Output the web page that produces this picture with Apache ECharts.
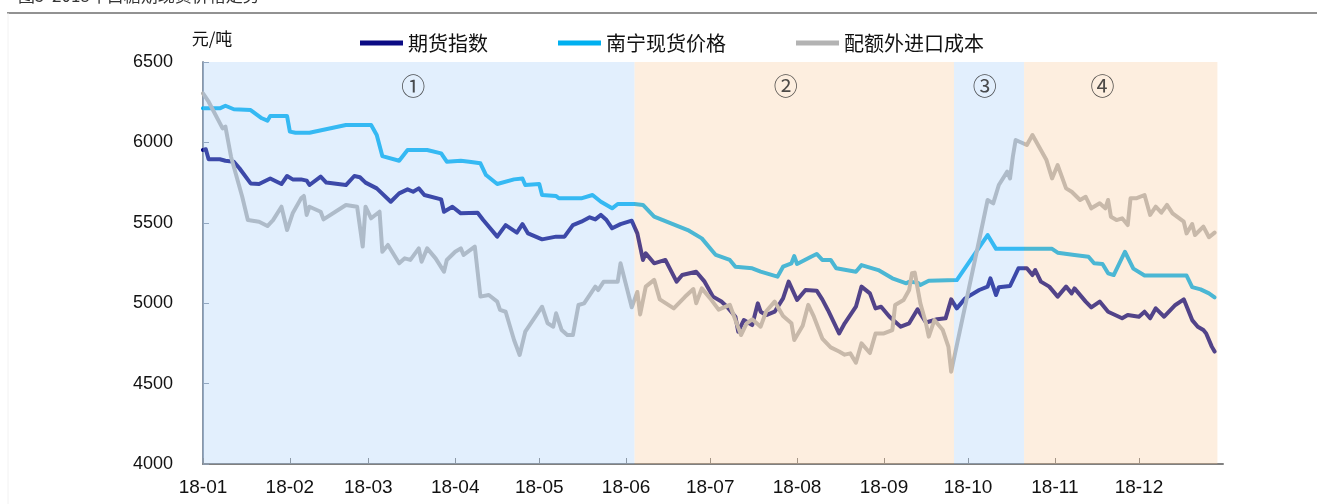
<!DOCTYPE html>
<html>
<head>
<meta charset="utf-8">
<script src="https://cdn.jsdelivr.net/npm/echarts@6/dist/echarts.min.js"></script>
<style>
  html, body { margin: 0; padding: 0; background: #fff; }
  #chart { width: 1317px; height: 504px; }
</style>
</head>
<body>
<div id="chart"></div>
<script>
// Month tick labels
const monthLabels = ['18-01', '18-02', '18-03', '18-04', '18-05', '18-06',
                     '18-07', '18-08', '18-09', '18-10', '18-11', '18-12'];

// Series names
const seriesNames = ['期货指数', '南宁现货价格', '配额外进口成本'];

// Sugar futures index (元/吨)
const futuresIndex = [
  ['2018-01-01', 5953], ['2018-01-02', 5957], ['2018-01-03', 5895], ['2018-01-07', 5895],
  ['2018-01-09', 5886], ['2018-01-12', 5880], ['2018-01-14', 5839], ['2018-01-18', 5745],
  ['2018-01-21', 5741], ['2018-01-25', 5776], ['2018-01-29', 5741], ['2018-01-31', 5791],
  ['2018-02-02', 5770], ['2018-02-05', 5770], ['2018-02-07', 5762], ['2018-02-08', 5735],
  ['2018-02-12', 5787], ['2018-02-14', 5750], ['2018-02-21', 5735], ['2018-02-24', 5791],
  ['2018-02-26', 5783], ['2018-02-28', 5750], ['2018-03-04', 5714], ['2018-03-09', 5631],
  ['2018-03-12', 5683], ['2018-03-15', 5708], ['2018-03-17', 5693], ['2018-03-19', 5714],
  ['2018-03-21', 5673], ['2018-03-27', 5646], ['2018-03-28', 5569], ['2018-03-31', 5600],
  ['2018-04-03', 5559], ['2018-04-09', 5563], ['2018-04-11', 5517], ['2018-04-16', 5414],
  ['2018-04-19', 5486], ['2018-04-23', 5439], ['2018-04-25', 5492], ['2018-04-27', 5434],
  ['2018-05-02', 5397], ['2018-05-07', 5414], ['2018-05-10', 5414], ['2018-05-13', 5486],
  ['2018-05-16', 5507], ['2018-05-19', 5534], ['2018-05-21', 5521], ['2018-05-23', 5549],
  ['2018-05-25', 5517], ['2018-05-27', 5466], ['2018-05-30', 5492], ['2018-06-03', 5513],
  ['2018-06-05', 5434], ['2018-06-07', 5269], ['2018-06-08', 5310], ['2018-06-11', 5248],
  ['2018-06-15', 5269], ['2018-06-19', 5134], ['2018-06-21', 5175], ['2018-06-26', 5196],
  ['2018-06-29', 5134], ['2018-07-02', 5041], ['2018-07-05', 5010], ['2018-07-07', 4978],
  ['2018-07-10', 4916], ['2018-07-11', 4823], ['2018-07-13', 4895], ['2018-07-16', 4864],
  ['2018-07-18', 4999], ['2018-07-19', 4947], ['2018-07-21', 4926], ['2018-07-24', 4947],
  ['2018-07-27', 5030], ['2018-07-29', 5134], ['2018-08-01', 5020], ['2018-08-04', 5082],
  ['2018-08-08', 5078], ['2018-08-10', 5024], ['2018-08-12', 4958], ['2018-08-16', 4812],
  ['2018-08-18', 4875], ['2018-08-22', 4978], ['2018-08-24', 5103], ['2018-08-27', 5061],
  ['2018-08-29', 4968], ['2018-08-31', 4978], ['2018-09-03', 4916], ['2018-09-07', 4854],
  ['2018-09-10', 4875], ['2018-09-13', 4962], ['2018-09-16', 4880], ['2018-09-20', 4900],
  ['2018-09-23', 4906], ['2018-09-25', 5024], ['2018-09-27', 4968], ['2018-09-30', 5030],
  ['2018-10-05', 5082], ['2018-10-08', 5103], ['2018-10-09', 5155], ['2018-10-11', 5051],
  ['2018-10-12', 5099], ['2018-10-16', 5107], ['2018-10-19', 5217], ['2018-10-22', 5217],
  ['2018-10-24', 5175], ['2018-10-25', 5206], ['2018-10-27', 5134], ['2018-10-30', 5103],
  ['2018-11-02', 5041], ['2018-11-05', 5103], ['2018-11-07', 5061], ['2018-11-08', 5092],
  ['2018-11-12', 5010], ['2018-11-14', 4974], ['2018-11-17', 5010], ['2018-11-20', 4947],
  ['2018-11-25', 4906], ['2018-11-27', 4927], ['2018-12-01', 4916], ['2018-12-03', 4947],
  ['2018-12-05', 4906], ['2018-12-07', 4968], ['2018-12-10', 4916], ['2018-12-14', 4989],
  ['2018-12-17', 5024], ['2018-12-20', 4895], ['2018-12-22', 4854], ['2018-12-24', 4833],
  ['2018-12-25', 4812], ['2018-12-27', 4730], ['2018-12-28', 4699]
];

// Nanning spot price (元/吨)
const nanningSpot = [
  ['2018-01-01', 6212], ['2018-01-07', 6212], ['2018-01-09', 6228], ['2018-01-12', 6206],
  ['2018-01-18', 6201], ['2018-01-22', 6150], ['2018-01-24', 6135], ['2018-01-25', 6164],
  ['2018-01-31', 6164], ['2018-02-01', 6067], ['2018-02-03', 6060], ['2018-02-08', 6060],
  ['2018-02-21', 6108], ['2018-03-02', 6108], ['2018-03-04', 6046], ['2018-03-06', 5915],
  ['2018-03-12', 5886], ['2018-03-15', 5953], ['2018-03-22', 5953], ['2018-03-27', 5932],
  ['2018-03-29', 5880], ['2018-04-03', 5886], ['2018-04-06', 5880], ['2018-04-10', 5870],
  ['2018-04-12', 5797], ['2018-04-16', 5741], ['2018-04-22', 5770], ['2018-04-25', 5776],
  ['2018-04-26', 5735], ['2018-05-01', 5741], ['2018-05-02', 5673], ['2018-05-07', 5667],
  ['2018-05-08', 5652], ['2018-05-16', 5652], ['2018-05-20', 5673], ['2018-05-23', 5631],
  ['2018-05-27', 5590], ['2018-05-29', 5617], ['2018-06-04', 5617], ['2018-06-07', 5611],
  ['2018-06-11', 5538], ['2018-06-17', 5497], ['2018-06-23', 5455], ['2018-06-28', 5403],
  ['2018-07-02', 5320], ['2018-07-03', 5300], ['2018-07-08', 5269], ['2018-07-10', 5227],
  ['2018-07-16', 5217], ['2018-07-19', 5196], ['2018-07-25', 5165], ['2018-07-27', 5227],
  ['2018-07-30', 5248], ['2018-07-31', 5293], ['2018-08-01', 5244], ['2018-08-06', 5289],
  ['2018-08-08', 5306], ['2018-08-10', 5269], ['2018-08-13', 5269], ['2018-08-15', 5217],
  ['2018-08-22', 5196], ['2018-08-24', 5237], ['2018-08-30', 5206], ['2018-09-04', 5155],
  ['2018-09-09', 5124], ['2018-09-10', 5134], ['2018-09-13', 5128], ['2018-09-14', 5113],
  ['2018-09-17', 5140], ['2018-09-27', 5144], ['2018-10-08', 5424], ['2018-10-11', 5338],
  ['2018-10-31', 5338], ['2018-11-02', 5314], ['2018-11-08', 5300], ['2018-11-13', 5289],
  ['2018-11-15', 5248], ['2018-11-18', 5244], ['2018-11-20', 5186], ['2018-11-22', 5175],
  ['2018-11-26', 5320], ['2018-11-29', 5215], ['2018-12-03', 5172], ['2018-12-18', 5172],
  ['2018-12-20', 5100], ['2018-12-23', 5086], ['2018-12-26', 5061], ['2018-12-28', 5036]
];

// Out-of-quota import cost (元/吨)
const importCost = [
  ['2018-01-01', 6305], ['2018-01-03', 6253], ['2018-01-08', 6087], ['2018-01-09', 6098],
  ['2018-01-11', 5911], ['2018-01-15', 5662], ['2018-01-17', 5517], ['2018-01-21', 5507],
  ['2018-01-24', 5480], ['2018-01-26', 5517], ['2018-01-29', 5600], ['2018-01-31', 5455],
  ['2018-02-02', 5559], ['2018-02-05', 5652], ['2018-02-06', 5667], ['2018-02-07', 5549],
  ['2018-02-08', 5600], ['2018-02-12', 5569], ['2018-02-13', 5521], ['2018-02-21', 5611],
  ['2018-02-25', 5600], ['2018-02-27', 5352], ['2018-02-28', 5600], ['2018-03-02', 5528],
  ['2018-03-05', 5569], ['2018-03-06', 5320], ['2018-03-08', 5362], ['2018-03-12', 5248],
  ['2018-03-14', 5279], ['2018-03-16', 5269], ['2018-03-19', 5341], ['2018-03-20', 5258],
  ['2018-03-22', 5341], ['2018-03-25', 5279], ['2018-03-28', 5196], ['2018-03-29', 5269],
  ['2018-04-01', 5320], ['2018-04-03', 5341], ['2018-04-04', 5300], ['2018-04-08', 5352],
  ['2018-04-10', 5041], ['2018-04-13', 5051], ['2018-04-16', 5010], ['2018-04-17', 4958],
  ['2018-04-19', 4947], ['2018-04-22', 4771], ['2018-04-24', 4678], ['2018-04-26', 4823],
  ['2018-05-02', 4978], ['2018-05-04', 4875], ['2018-05-06', 4854], ['2018-05-07', 4937],
  ['2018-05-09', 4833], ['2018-05-11', 4802], ['2018-05-13', 4802], ['2018-05-15', 4989],
  ['2018-05-17', 4999], ['2018-05-21', 5103], ['2018-05-22', 5082], ['2018-05-24', 5134],
  ['2018-05-29', 5134], ['2018-05-30', 5248], ['2018-06-03', 4975], ['2018-06-05', 5070],
  ['2018-06-06', 4930], ['2018-06-08', 5103], ['2018-06-11', 5145], ['2018-06-13', 5024],
  ['2018-06-18', 4968], ['2018-06-22', 5040], ['2018-06-25', 5088], ['2018-06-26', 5000],
  ['2018-06-28', 5092], ['2018-07-01', 5030], ['2018-07-04', 4960], ['2018-07-08', 4990],
  ['2018-07-10', 4895], ['2018-07-12', 4802], ['2018-07-14', 4875], ['2018-07-16', 4900],
  ['2018-07-19', 4854], ['2018-07-21', 4950], ['2018-07-24', 5010], ['2018-07-27', 4920],
  ['2018-07-30', 4875], ['2018-07-31', 4771], ['2018-08-03', 4860], ['2018-08-05', 4990],
  ['2018-08-07', 4916], ['2018-08-10', 4780], ['2018-08-13', 4725], ['2018-08-16', 4700],
  ['2018-08-18', 4680], ['2018-08-20', 4688], ['2018-08-22', 4630], ['2018-08-24', 4750],
  ['2018-08-27', 4690], ['2018-08-29', 4812], ['2018-09-01', 4812], ['2018-09-04', 4833],
  ['2018-09-05', 4989], ['2018-09-08', 5020], ['2018-09-10', 5082], ['2018-09-11', 5186],
  ['2018-09-12', 5190], ['2018-09-14', 4999], ['2018-09-16', 4875], ['2018-09-17', 4792],
  ['2018-09-19', 4895], ['2018-09-22', 4833], ['2018-09-24', 4730], ['2018-09-25', 4574],
  ['2018-10-05', 5393], ['2018-10-08', 5642], ['2018-10-10', 5621], ['2018-10-12', 5735],
  ['2018-10-15', 5818], ['2018-10-16', 5776], ['2018-10-17', 5911], ['2018-10-18', 6015],
  ['2018-10-22', 5984], ['2018-10-24', 6046], ['2018-10-29', 5890], ['2018-10-31', 5776],
  ['2018-11-02', 5859], ['2018-11-05', 5714], ['2018-11-07', 5693], ['2018-11-10', 5642],
  ['2018-11-12', 5662], ['2018-11-14', 5590], ['2018-11-17', 5621], ['2018-11-19', 5590],
  ['2018-11-20', 5642], ['2018-11-21', 5538], ['2018-11-23', 5517], ['2018-11-25', 5528],
  ['2018-11-27', 5486], ['2018-11-28', 5652], ['2018-11-30', 5652], ['2018-12-03', 5673],
  ['2018-12-05', 5549], ['2018-12-07', 5600], ['2018-12-09', 5563], ['2018-12-11', 5611],
  ['2018-12-13', 5559], ['2018-12-17', 5507], ['2018-12-18', 5434], ['2018-12-20', 5492],
  ['2018-12-21', 5424], ['2018-12-24', 5476], ['2018-12-26', 5410], ['2018-12-28', 5439]
];

// Market phases: boundaries, tags and where each tag sits
const phaseBounds = ['2018-01-01', '2018-06-04', '2018-09-26', '2018-10-21', '2018-12-29'];
const phaseTags = ['①', '②', '③', '④'];
const phaseTagDates = ['2018-03-17', '2018-07-28', '2018-10-07', '2018-11-18'];
const phaseTagLevel = 6350;

const lineColors = ['#0b0b84', '#00b0f0', '#b3b3b3'];
const phaseFills = ['rgba(165,205,248,0.32)', 'rgba(250,200,150,0.30)'];

const chart = echarts.init(document.getElementById('chart'), null, { renderer: 'canvas' });

const lineSeries = [futuresIndex, nanningSpot, importCost].map((d, i) => ({
  name: seriesNames[i],
  type: 'line',
  data: d,
  showSymbol: false,
  symbol: 'none',
  z: 2,
  color: lineColors[i],
  lineStyle: { width: 4, color: lineColors[i], join: 'round', cap: 'round' },
  emphasis: { disabled: true }
}));

const phaseAreas = phaseTags.map((t, i) => [
  { xAxis: phaseBounds[i], itemStyle: { color: phaseFills[i % 2] } },
  { xAxis: phaseBounds[i + 1] }
]);

const option = {
  animation: false,
  textStyle: { fontFamily: 'Liberation Sans, Arial, sans-serif' },
  grid: { left: 203, right: 94, top: 62, bottom: 40 },
  legend: {
    data: seriesNames,
    left: 355,
    top: 28,
    icon: 'rect',
    itemWidth: 43,
    itemHeight: 5,
    itemGap: 70,
    textStyle: { fontFamily: 'Noto Sans CJK SC', fontSize: 20, color: '#111' }
  },
  xAxis: {
    type: 'time',
    min: '2018-01-01',
    max: '2018-12-31',
    splitNumber: 12,
    axisLine: { lineStyle: { color: '#808080', width: 2 } },
    axisTick: { show: true, inside: true, length: 6, lineStyle: { color: '#808080', width: 1 } },
    axisLabel: {
      margin: 14,
      fontSize: 19,
      color: '#111',
      fontFamily: 'Liberation Sans',
      showMaxLabel: false,
      hideOverlap: false,
      formatter: (v) => monthLabels[new Date(v).getMonth()]
    },
    splitLine: { show: false }
  },
  yAxis: {
    type: 'value',
    min: 4000,
    max: 6500,
    interval: 500,
    name: '元/吨',
    nameLocation: 'end',
    nameGap: 15,
    nameTextStyle: { fontFamily: 'Noto Sans CJK SC', fontSize: 17, color: '#111', padding: [0, 0, 0, 18] },
    axisLine: { show: true, lineStyle: { color: '#8a97a8', width: 2 } },
    axisTick: { show: true, inside: true, length: 6, lineStyle: { color: '#8a97a8', width: 1 } },
    axisLabel: {
      margin: 30, fontSize: 18, color: '#111', fontFamily: 'Liberation Sans',
      formatter: (v) => String(v)
    },
    splitLine: { show: false }
  },
  series: [
    ...lineSeries,
    {
      name: 'phases',
      type: 'line',
      data: [],
      z: 3,
      markArea: { z: 3, silent: true, data: phaseAreas, label: { show: false } }
    },
    {
      name: 'phase tags',
      type: 'scatter',
      z: 6,
      symbolSize: 1,
      itemStyle: { color: 'rgba(0,0,0,0)' },
      data: phaseTagDates.map((d, i) => ({ value: [d, phaseTagLevel], name: phaseTags[i] })),
      label: {
        show: true,
        position: 'inside',
        formatter: (p) => p.name,
        fontFamily: 'Noto Sans CJK SC',
        fontSize: 24,
        color: '#222'
      },
      emphasis: { disabled: true }
    }
  ],
  graphic: [
    { type: 'line', shape: { x1: 7, y1: 13, x2: 1317, y2: 13 }, style: { stroke: '#6e6e6e', lineWidth: 1.5 } },
    { type: 'line', shape: { x1: 8, y1: 13, x2: 8, y2: 504 }, style: { stroke: '#f2f2f2', lineWidth: 1 } },
    {
      type: 'text', left: 18, top: -13,
      style: { text: '图5  2018年白糖期现货价格走势', font: '17px "Noto Sans CJK SC"', fill: '#333' }
    }
  ]
};

chart.setOption(option);
</script>
</body>
</html>
